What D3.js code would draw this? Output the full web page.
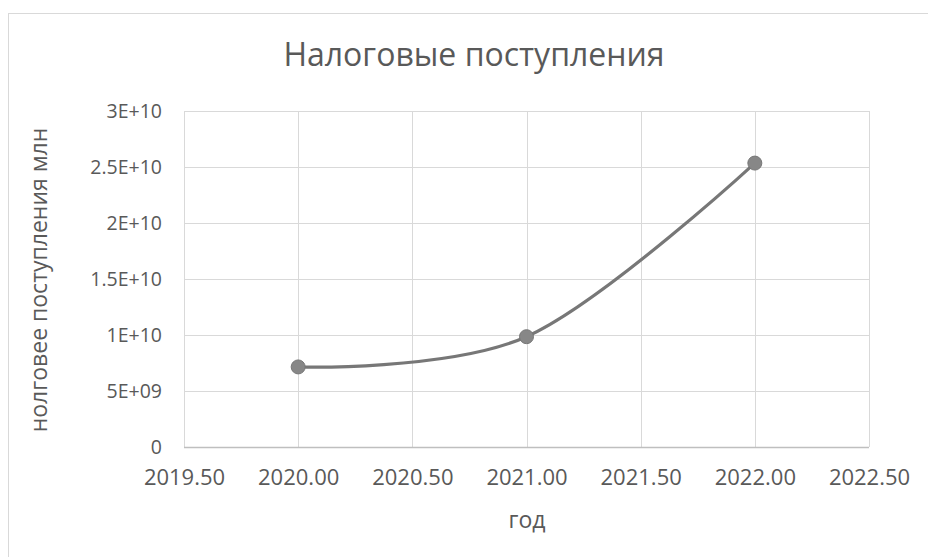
<!DOCTYPE html>
<html>
<head>
<meta charset="utf-8">
<script src="https://cdn.jsdelivr.net/npm/d3@7"></script>
<style>
  html, body { margin: 0; padding: 0; background: #fff; }
  svg { display: block; }
  text { font-family: "Open Sans", "Noto Sans", sans-serif; fill: #595959; }
</style>
</head>
<body>
<svg id="chart" width="928" height="557"></svg>
<script>
// Tax revenue by year
const years = [2020, 2021, 2022];
const revenue = [7.15e9, 9.85e9, 2.535e10];
const xTicks = [2019.5, 2020, 2020.5, 2021, 2021.5, 2022, 2022.5];
const yTicks = [0, 5e9, 1e10, 1.5e10, 2e10, 2.5e10, 3e10];
const yTickLabels = ["0", "5E+09", "1E+10", "1.5E+10", "2E+10", "2.5E+10", "3E+10"];

const svg = d3.select("#chart");
const W = 928, H = 557;
const plot = { left: 184, right: 869, top: 111, bottom: 447 };

// Outer chart frame
svg.append("rect")
  .attr("x", 8.5).attr("y", 13.5)
  .attr("width", W + 10).attr("height", H + 10)
  .attr("fill", "#fff").attr("stroke", "#d9d9d9").attr("stroke-width", 1);

const x = d3.scaleLinear().domain([2019.5, 2022.5]).range([plot.left, plot.right]);
const y = d3.scaleLinear().domain([0, 3e10]).range([plot.bottom, plot.top]);

// Gridlines
const grid = svg.append("g");
grid.selectAll("line.h").data(yTicks.slice(1)).join("line")
  .attr("x1", plot.left).attr("x2", plot.right)
  .attr("y1", d => Math.round(y(d)) + 0.5).attr("y2", d => Math.round(y(d)) + 0.5)
  .attr("stroke", "#d9d9d9").attr("stroke-width", 1);
grid.selectAll("line.v").data(xTicks).join("line")
  .attr("x1", d => Math.round(x(d)) + 0.5).attr("x2", d => Math.round(x(d)) + 0.5)
  .attr("y1", plot.top).attr("y2", plot.bottom)
  .attr("stroke", "#d9d9d9").attr("stroke-width", 1);

// X axis baseline
svg.append("line")
  .attr("x1", plot.left).attr("x2", plot.right)
  .attr("y1", plot.bottom + 0.5).attr("y2", plot.bottom + 0.5)
  .attr("stroke", "#bfbfbf").attr("stroke-width", 1.5);

// Axes (labels only, Excel style)
const xAxis = d3.axisBottom(x).tickValues(xTicks).tickSize(0).tickPadding(22)
  .tickFormat(d3.format(".2f"));
const gx = svg.append("g").attr("transform", `translate(0,${plot.bottom})`).call(xAxis);
gx.select(".domain").remove();
gx.selectAll("text").attr("font-size", 22).attr("fill", "#595959")
  .attr("font-family", "'Open Sans', sans-serif");

const yAxis = d3.axisLeft(y).tickValues(yTicks).tickSize(0).tickPadding(22)
  .tickFormat((d, i) => yTickLabels[i]);
const gy = svg.append("g").attr("transform", `translate(${plot.left},0)`).call(yAxis);
gy.select(".domain").remove();
gy.selectAll("text").attr("font-size", 19.5).attr("fill", "#595959")
  .attr("font-family", "'Open Sans', sans-serif");

// Smoothed line
const pts = years.map((yr, i) => [x(yr), y(revenue[i])]);
svg.append("path")
  .attr("d", d3.line().curve(d3.curveCardinal.tension(0))(pts))
  .attr("fill", "none").attr("stroke", "#777777").attr("stroke-width", 3.2)
  .attr("stroke-linecap", "round");

svg.selectAll("circle.pt").data(pts).join("circle")
  .attr("cx", d => d[0]).attr("cy", d => d[1]).attr("r", 7)
  .attr("fill", "#878787").attr("stroke", "#777777").attr("stroke-width", 1);

// Title and axis titles
svg.append("text").attr("x", 474).attr("y", 66).attr("text-anchor", "middle")
  .attr("font-size", 32).text("Налоговые поступления");
svg.append("text").attr("x", 527).attr("y", 528).attr("text-anchor", "middle")
  .attr("font-size", 23).text("год");
svg.append("text")
  .attr("transform", "translate(47,280) rotate(-90)")
  .attr("text-anchor", "middle").attr("font-size", 23)
  .attr("font-family", "'Liberation Sans', Arial, sans-serif")
  .text("нолговее поступления млн");
</script>
</body>
</html>
